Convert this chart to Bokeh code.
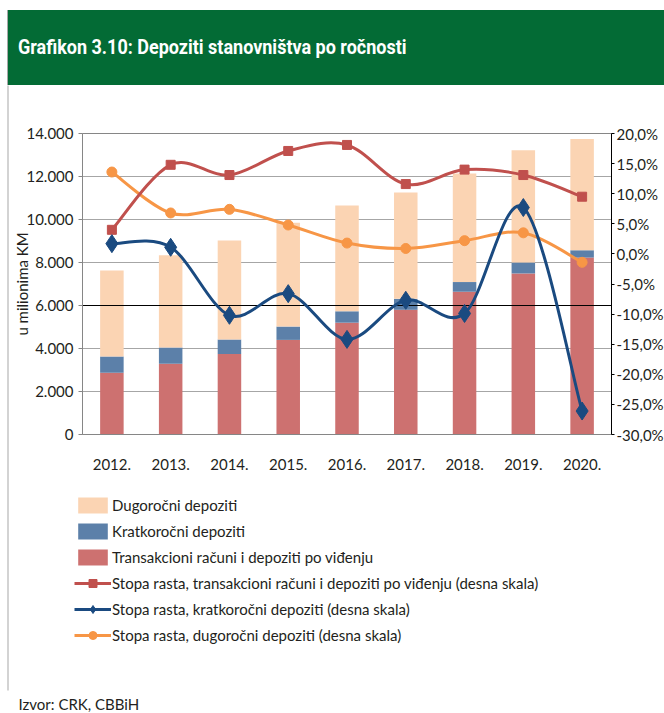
from bokeh.plotting import figure
from bokeh.models import (Range1d, LinearAxis, FixedTicker, CustomJSTickFormatter,
                          Legend, LegendItem, Label, BoxAnnotation, ColumnDataSource, Div)
from bokeh.layouts import column
from bokeh.embed import file_html
from bokeh.resources import INLINE

# ---------------- data ----------------
years = ["2012.", "2013.", "2014.", "2015.", "2016.", "2017.", "2018.", "2019.", "2020."]
transakcioni = [2870, 3290, 3750, 4400, 5200, 5800, 6640, 7490, 8230]
kratkorocni = [760, 760, 670, 620, 530, 510, 450, 510, 340]
dugorocni = [4000, 4290, 4600, 4830, 4920, 4950, 5050, 5220, 5180]
rast_transakcioni = [4.0, 14.8, 13.1, 17.1, 18.1, 11.6, 14.0, 13.1, 9.5]
rast_kratkorocni = [1.7, 1.1, -10.2, -6.6, -14.2, -7.7, -9.9, 7.7, -26.1]
rast_dugorocni = [13.6, 6.8, 7.4, 4.8, 1.8, 0.9, 2.2, 3.5, -1.4]
left_ticks = [0, 2000, 4000, 6000, 8000, 10000, 12000, 14000]
right_ticks = [-30, -25, -20, -15, -10, -5, 0, 5, 10, 15, 20]
left_min, left_max = 0, 14000
right_min, right_max = -30, 20
ref_line = 6000

title_text = "Grafikon 3.10: Depoziti stanovništva po ročnosti"
y_label = "u milionima KM"
source_text = "Izvor: CRK, CBBiH"
labels = ["Dugoročni depoziti", "Kratkoročni depoziti", "Transakcioni računi i depoziti po viđenju",
          "Stopa rasta, transakcioni računi i depoziti po viđenju (desna skala)",
          "Stopa rasta, kratkoročni depoziti (desna skala)",
          "Stopa rasta, dugoročni depoziti (desna skala)"]

# ---------------- style ----------------
FONT = "Lato"
FS = "15px"
TXT = "#231F20"
GREEN = "#036B35"
C_DUGO = "#FBD4B3"
C_KRAT = "#5C80A9"
C_TRAN = "#CD7170"
C_LRED = "#C0504D"
C_LBLUE = "#1A4A80"
C_LORANGE = "#F79646"

# page geometry (pixels)
W, HDR_H, H = 664, 85, 628
PL, PR, PT, PB = 82, 611, 133, 434      # plot area on the page
n = len(years)


def xd(px):
    return (px - PL) / (PR - PL) * n


def yd(py):
    return left_min + (PB - py) / (PB - PT) * (left_max - left_min)


def pd(py):
    return right_min + (PB - py) / (PB - PT) * (right_max - right_min)


# ---------------- header ----------------
hdr = Div(width=W, height=HDR_H, margin=0, text=(
    '<div style="margin-top:10px;margin-left:7px;height:75px;width:657px;'
    'background:%s;border-left:1px solid #A8A8A8;box-sizing:border-box;overflow:hidden;">'
    '<span style="display:inline-block;margin-left:10px;line-height:75px;color:white;'
    'font-family:Roboto;font-weight:bold;font-size:20px;white-space:nowrap;'
    'transform:scaleX(0.9);transform-origin:left center;">%s</span></div>' % (GREEN, title_text)))

# ---------------- main chart ----------------
p = figure(width=W, height=H, x_range=Range1d(xd(0), xd(W)),
           y_range=Range1d(yd(HDR_H + H), yd(HDR_H)), toolbar_location=None, output_backend="svg",
           min_border=0)
p.extra_y_ranges = {"pct": Range1d(pd(HDR_H + H), pd(HDR_H))}
p.outline_line_color = None
p.background_fill_color = "white"
p.border_fill_color = "white"

xs = [i + 0.5 for i in range(n)]
src = ColumnDataSource(dict(x=xs, transakcioni=transakcioni,
                            kratkorocni=kratkorocni, dugorocni=dugorocni))
bars = p.vbar_stack(["transakcioni", "kratkorocni", "dugorocni"], x="x", width=0.4,
                    color=[C_TRAN, C_KRAT, C_DUGO], line_color=None, source=src)

# black reference line at 6000 (over the bars, under the lines)
p.segment(x0=[0], x1=[n], y0=[ref_line], y1=[ref_line], line_color="#000000", line_width=1)


def smooth(ys):
    d = dict(x0=[], y0=[], x1=[], y1=[], cx0=[], cy0=[], cx1=[], cy1=[])
    for i in range(n - 1):
        a = max(i - 1, 0)
        b = min(i + 2, n - 1)
        d["x0"].append(xs[i]); d["y0"].append(ys[i])
        d["x1"].append(xs[i + 1]); d["y1"].append(ys[i + 1])
        d["cx0"].append(xs[i] + (xs[i + 1] - xs[a]) / 6)
        d["cy0"].append(ys[i] + (ys[i + 1] - ys[a]) / 6)
        d["cx1"].append(xs[i + 1] - (xs[b] - xs[i]) / 6)
        d["cy1"].append(ys[i + 1] - (ys[b] - ys[i]) / 6)
    return ColumnDataSource(d)


def series(ys, color, marker, size):
    bz = p.bezier(x0="x0", y0="y0", x1="x1", y1="y1", cx0="cx0", cy0="cy0", cx1="cx1", cy1="cy1",
                  source=smooth(ys), line_color=color, line_width=3, y_range_name="pct")
    sc = p.scatter(x=xs, y=ys, marker=marker, size=size, fill_color=color, line_color=color,
                   y_range_name="pct")
    return bz, sc

r_or = series(rast_dugorocni, C_LORANGE, "circle", 10)
r_red = series(rast_transakcioni, C_LRED, "square", 9)
r_blue = series(rast_kratkorocni, C_LBLUE, "diamond", 18)

# plot-area border
p.add_layout(BoxAnnotation(left=0, right=n, bottom=left_min, top=left_max, fill_alpha=0,
                           line_color="#3A3A3A", line_width=1, level="underlay"))

# x axis
xa = p.xaxis[0]
xa.fixed_location = left_min
xa.bounds = (0, n)
xa.ticker = FixedTicker(ticks=xs)
xa.formatter = CustomJSTickFormatter(args=dict(labels=years), code="return labels[Math.floor(tick)];")
xa.major_tick_line_color = None
xa.minor_tick_line_color = None
xa.axis_line_color = "#868686"
xa.major_label_standoff = 18
xa.major_label_text_font = FONT
xa.major_label_text_font_size = FS
xa.major_label_text_color = TXT

# left axis
ya = p.yaxis[0]
ya.fixed_location = 0
ya.bounds = (left_min, left_max)
ya.ticker = FixedTicker(ticks=left_ticks)
ya.formatter = CustomJSTickFormatter(
    code="return tick.toFixed(0).replace(/\\B(?=(\\d{3})+(?!\\d))/g, '.');")
ya.axis_line_color = "#868686"
ya.major_tick_line_color = "#868686"
ya.major_tick_out = 4
ya.major_tick_in = 0
ya.minor_tick_line_color = None
ya.major_label_standoff = 5
ya.major_label_text_font = FONT
ya.major_label_text_font_size = FS
ya.major_label_text_color = TXT
ya.axis_label = y_label
ya.axis_label_text_font = FONT
ya.axis_label_text_font_size = FS
ya.axis_label_text_font_style = "normal"
ya.axis_label_text_color = TXT
ya.axis_label_standoff = -8

# right axis
ry = LinearAxis(y_range_name="pct", ticker=FixedTicker(ticks=right_ticks), fixed_location=n,
                bounds=(right_min, right_max),
                formatter=CustomJSTickFormatter(code="return tick.toFixed(1).replace('.', ',') + '%';"))
ry.axis_line_color = "#000000"
ry.major_tick_line_color = "#000000"
ry.major_tick_out = 3
ry.major_tick_in = 0
ry.minor_tick_line_color = None
ry.major_label_standoff = 2
ry.major_label_text_font = FONT
ry.major_label_text_font_size = FS
ry.major_label_text_color = TXT
p.add_layout(ry, "right")

# grid
p.xgrid.grid_line_color = None
p.ygrid.ticker = FixedTicker(ticks=left_ticks)
p.ygrid.cross_bounds = (0, n)
p.ygrid.grid_line_color = "#A6A6A6"
p.ygrid.grid_line_width = 1

# legend
legend = Legend(items=[
    LegendItem(label=labels[0], renderers=[bars[2]]),
    LegendItem(label=labels[1], renderers=[bars[1]]),
    LegendItem(label=labels[2], renderers=[bars[0]]),
    LegendItem(label=labels[3], renderers=list(r_red)),
    LegendItem(label=labels[4], renderers=list(r_blue)),
    LegendItem(label=labels[5], renderers=list(r_or)),
], location=(74, 68), orientation="vertical", padding=0, margin=0, spacing=6,
    glyph_width=37, glyph_height=20, label_height=20, label_standoff=1,
    border_line_color=None, background_fill_alpha=0,
    label_text_font=FONT, label_text_font_size=FS, label_text_color=TXT)
p.add_layout(legend, "center")

# source note
p.add_layout(Label(x=18, y=10, x_units="screen", y_units="screen", text=source_text,
                   text_font=FONT, text_font_size=FS, text_color=TXT, text_baseline="alphabetic"))

# thin grey left border of the box
p.add_layout(BoxAnnotation(left=xd(7), right=xd(8), top=yd(HDR_H - 1), bottom=yd(690),
                           fill_color="#A8A8A8", fill_alpha=1, line_color=None))

layout = column(hdr, p, spacing=0)
open("out.html", "w").write(file_html(layout, INLINE))
